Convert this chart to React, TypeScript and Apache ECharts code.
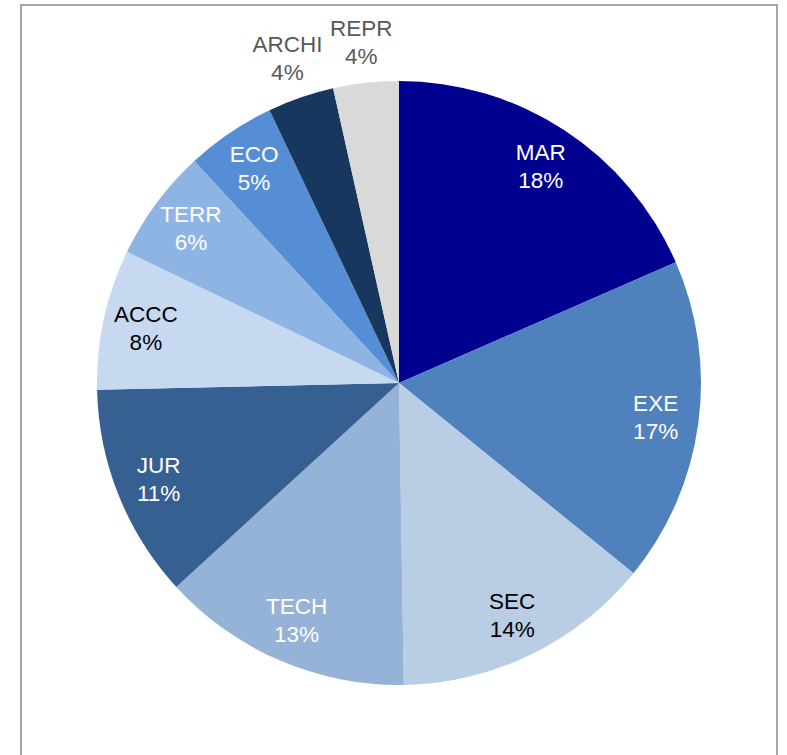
import React, { useEffect, useRef } from "react";
import * as echarts from "echarts";

const categories = ["MAR", "EXE", "SEC", "TECH", "JUR", "ACCC", "TERR", "ECO", "ARCHI", "REPR"];
const shares = [18.45, 17.4, 13.9, 13.45, 11.45, 7.5, 6.0, 4.8, 3.55, 3.5];
const outsideLabels = ["ARCHI", "REPR"];

const sliceColors = ["#000090", "#4F81BD", "#B9CDE5", "#95B3D7", "#376092", "#C6D9F1", "#8EB4E3", "#558ED5", "#17375E", "#D9D9D9"];
const labelColors = ["#FFFFFF", "#FFFFFF", "#000000", "#FFFFFF", "#FFFFFF", "#000000", "#FFFFFF", "#FFFFFF", "#595959", "#595959"];

const FONT = "'Liberation Sans', Arial, sans-serif";

export default function App() {
  const ref = useRef<HTMLDivElement>(null);
  useEffect(() => {
    if (!ref.current) return;
    const chart = echarts.init(ref.current, null, { renderer: "svg" });
    const center = [399, 383];
    const fmt = (p: any) => `${p.name}\n${Math.round(p.percent)}%`;
    const baseData = categories.map((c, i) => ({ name: c, value: shares[i] }));
    const labelStyle = (i: number, show: boolean) => ({
      show,
      position: "inside",
      formatter: fmt,
      color: labelColors[i],
      fontSize: 22.5,
      lineHeight: 28,
      fontFamily: FONT,
      align: "center",
    });
    chart.setOption({
      animation: false,
      backgroundColor: "#FFFFFF",
      graphic: [
        {
          type: "rect",
          shape: { x: 21, y: 5, width: 756, height: 770 },
          style: { fill: "none", stroke: "#A6A6A6", lineWidth: 2 },
        },
      ],
      series: [
        {
          type: "pie",
          center,
          radius: [0, 302],
          startAngle: 90,
          clockwise: true,
          silent: true,
          label: { show: false },
          labelLine: { show: false },
          data: baseData.map((d, i) => ({
            ...d,
            itemStyle: { color: sliceColors[i], borderWidth: 0 },
          })),
        },
        {
          type: "pie",
          center,
          radius: [212, 300],
          startAngle: 90,
          clockwise: true,
          silent: true,
          avoidLabelOverlap: false,
          labelLine: { show: false },
          data: baseData.map((d, i) => ({
            ...d,
            itemStyle: { color: "transparent", borderWidth: 0 },
            label: labelStyle(i, !outsideLabels.includes(d.name)),
          })),
        },
        {
          type: "pie",
          center,
          radius: [305, 375],
          startAngle: 90,
          clockwise: true,
          silent: true,
          avoidLabelOverlap: false,
          labelLine: { show: false },
          data: baseData.map((d, i) => ({
            ...d,
            itemStyle: { color: "transparent", borderWidth: 0 },
            label: labelStyle(i, outsideLabels.includes(d.name)),
          })),
        },
      ],
    });
    return () => chart.dispose();
  }, []);
  return (
    <div
      ref={ref}
      style={{ position: "absolute", left: 0, top: 0, width: 787, height: 755 }}
    />
  );
}
